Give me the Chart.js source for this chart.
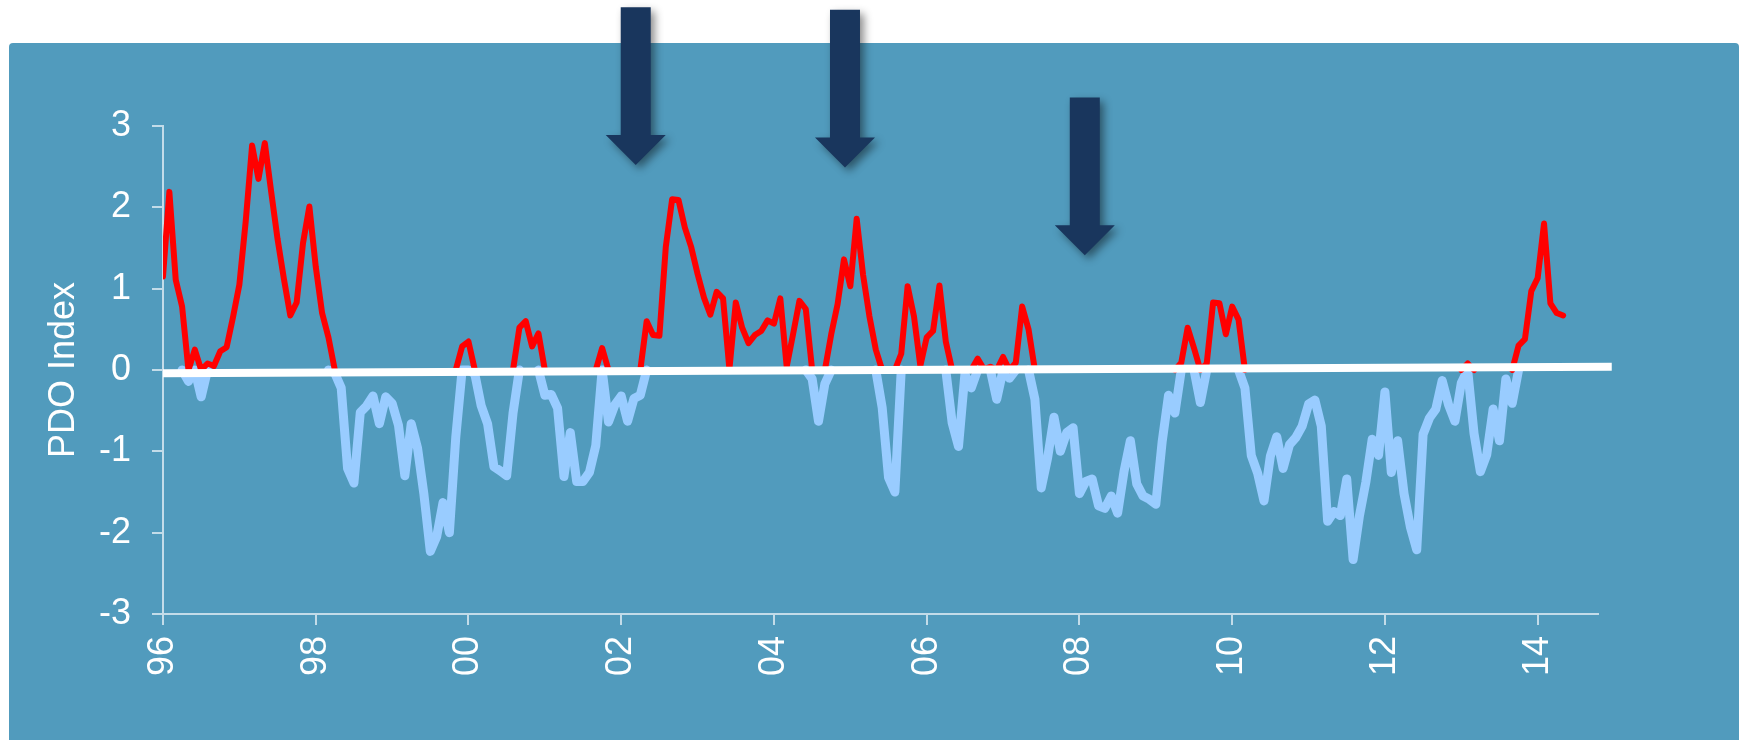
<!DOCTYPE html>
<html>
<head>
<meta charset="utf-8">
<title>PDO Index</title>
<script src="https://cdn.jsdelivr.net/npm/chart.js@4.4.1/dist/chart.umd.min.js"></script>
<style>
  html, body { margin: 0; padding: 0; background: #ffffff; }
  #wrap { position: relative; width: 1741px; height: 740px; }
</style>
</head>
<body>
<div id="wrap"><canvas id="pdoChart" width="1741" height="740"></canvas></div>
<script>
// PDO index, monthly values, Apr 1996 -> Aug 2014
const pdo1996 = [1.15, 2.19, 1.11, 0.78, -0.14, 0.25, -0.33, 0.08, 0.05]; // Apr..Dec
const pdo1997 = [0.23, 0.28, 0.65, 1.05, 1.83, 2.76, 2.35, 2.79, 2.19, 1.61, 1.12, 0.67];
const pdo1998 = [0.83, 1.56, 2.01, 1.27, 0.70, 0.40, -0.04, -0.22, -1.21, -1.39, -0.52, -0.44];
const pdo1999 = [-0.32, -0.66, -0.33, -0.41, -0.68, -1.30, -0.66, -0.96, -1.53, -2.23, -2.05, -1.63];
const pdo2000 = [-2.00, -0.83, 0.29, 0.35, -0.05, -0.44, -0.66, -1.19, -1.24, -1.30, -0.53, 0.52];
const pdo2001 = [0.60, 0.29, 0.45, -0.31, -0.30, -0.47, -1.31, -0.77, -1.37, -1.37, -1.26, -0.93];
const pdo2002 = [0.27, -0.64, -0.43, -0.32, -0.63, -0.35, -0.31, 0.60, 0.43, 0.42, 1.51, 2.10];
const pdo2003 = [2.09, 1.75, 1.51, 1.18, 0.89, 0.68, 0.96, 0.88, 0.01, 0.83, 0.52, 0.33];
const pdo2004 = [0.43, 0.48, 0.61, 0.57, 0.88, 0.04, 0.44, 0.85, 0.75, -0.11, -0.63, -0.17];
const pdo2005 = [0.44, 0.81, 1.36, 1.03, 1.86, 1.17, 0.66, 0.25, -0.46, -1.32, -1.50, 0.20];
const pdo2006 = [1.03, 0.66, 0.05, 0.40, 0.48, 1.04, 0.35, -0.65, -0.94, -0.05, -0.22, 0.14];
const pdo2007 = [0.01, 0.04, -0.36, 0.16, -0.10, 0.09, 0.78, 0.50, -0.36, -1.45, -1.08, -0.58];
const pdo2008 = [-1.00, -0.77, -0.71, -1.52, -1.37, -1.34, -1.67, -1.70, -1.55, -1.76, -1.25, -0.87];
const pdo2009 = [-1.40, -1.55, -1.59, -1.65, -0.88, -0.31, -0.53, 0.09, 0.52, 0.27, -0.40, 0.08];
const pdo2010 = [0.83, 0.82, 0.44, 0.78, 0.62, -0.22, -1.05, -1.27, -1.61, -1.06, -0.82, -1.21];
const pdo2011 = [-0.92, -0.83, -0.69, -0.42, -0.37, -0.69, -1.86, -1.74, -1.79, -1.34, -2.33, -1.79];
const pdo2012 = [-1.38, -0.85, -1.05, -0.27, -1.26, -0.87, -1.52, -1.93, -2.21, -0.79, -0.59, -0.48];
const pdo2013 = [-0.13, -0.43, -0.63, -0.16, 0.08, -0.78, -1.25, -1.04, -0.48, -0.87, -0.11, -0.41];
const pdo2014 = [0.30, 0.38, 0.97, 1.13, 1.80, 0.82, 0.70, 0.67];

const years = [1996, 1997, 1998, 1999, 2000, 2001, 2002, 2003, 2004, 2005,
               2006, 2007, 2008, 2009, 2010, 2011, 2012, 2013, 2014];
const yearValues = [pdo1996, pdo1997, pdo1998, pdo1999, pdo2000, pdo2001, pdo2002,
                    pdo2003, pdo2004, pdo2005, pdo2006, pdo2007, pdo2008, pdo2009,
                    pdo2010, pdo2011, pdo2012, pdo2013, pdo2014];
const firstMonth = [3, 0, 0, 0, 0, 0, 0, 0, 0, 0, 0, 0, 0, 0, 0, 0, 0, 0, 0]; // 0 = Jan

// axis ticks
const tickYears = [1996.25, 1998.25, 2000.25, 2002.25, 2004.25, 2006.25, 2008.25, 2010.25, 2012.25, 2014.25];
const tickLabels = ["96", "98", "00", "02", "04", "06", "08", "10", "12", "14"];
const yTicks = [-3, -2, -1, 0, 1, 2, 3];

// white zero line (slightly tilted in the original)
const zeroLineX = [1996.25, 2015.22];
const zeroLineY = [-0.04, 0.04];

// arrows: x in years, top and tip in index units
const arrowX = [2002.44, 2005.18, 2008.32];
const arrowTop = [4.46, 4.43, 3.35];
const arrowTip = [2.52, 2.49, 1.41];

// ---- build series ----
// flatten to one monthly list
const months = [];
years.forEach((yr, i) => {
  yearValues[i].forEach((v, m) => {
    months.push({ x: yr + (firstMonth[i] + m) / 12, v });
  });
});

// warm = positive part, cool = negative part; a month of the other sign
// drops to zero only when it borders the series, otherwise it is a gap
function splitSeries(isMine) {
  return months.map((p, i) => {
    if (isMine(p.v)) return { x: p.x, y: p.v };
    const prev = months[i - 1], next = months[i + 1];
    const borders = (prev && isMine(prev.v)) || (next && isMine(next.v));
    return { x: p.x, y: borders ? 0 : null };
  });
}
const warm = splitSeries((v) => v > 0);
const cool = splitSeries((v) => v < 0);
const zeroLine = zeroLineX.map((x, i) => ({ x, y: zeroLineY[i] }));

const FONT = "'Liberation Sans', Arial, sans-serif";
const AXIS = "#c3dce9";

const panelPlugin = {
  id: "panel",
  beforeDraw(chart) {
    const ctx = chart.ctx;
    ctx.save();
    ctx.fillStyle = "#519bbd";
    ctx.beginPath();
    ctx.roundRect(9, 43, 1730, 720, 4);
    ctx.fill();
    ctx.restore();
  },
};

const arrowPlugin = {
  id: "arrows",
  afterDraw(chart) {
    const { ctx, scales } = chart;
    const sx = scales.x, sy = scales.y;
    ctx.save();
    arrowX.forEach((ax, i) => {
      const cx = sx.getPixelForValue(ax);
      const top = sy.getPixelForValue(arrowTop[i]);
      const tip = sy.getPixelForValue(arrowTip[i]);
      const base = tip - 30;
      ctx.beginPath();
      ctx.moveTo(cx - 15, top);
      ctx.lineTo(cx + 15, top);
      ctx.lineTo(cx + 15, base);
      ctx.lineTo(cx + 30, base);
      ctx.lineTo(cx, tip);
      ctx.lineTo(cx - 30, base);
      ctx.lineTo(cx - 15, base);
      ctx.closePath();
      ctx.shadowColor = "rgba(0,0,0,0.45)";
      ctx.shadowBlur = 8;
      ctx.shadowOffsetX = 4;
      ctx.shadowOffsetY = 4;
      ctx.fillStyle = "#19365d";
      ctx.fill();
    });
    ctx.restore();
  },
};

new Chart(document.getElementById("pdoChart"), {
  type: "line",
  data: {
    datasets: [
      {
        label: "zero",
        data: zeroLine,
        borderColor: "#ffffff",
        borderWidth: 8,
        borderCapStyle: "butt",
        pointRadius: 0,
        clip: false,
      },
      {
        label: "PDO +",
        data: warm,
        borderColor: "#ff0000",
        borderWidth: 6,
        borderJoinStyle: "round",
        borderCapStyle: "round",
        pointRadius: 0,
        tension: 0,
        spanGaps: false,
      },
      {
        label: "PDO -",
        data: cool,
        borderColor: "#99ccff",
        borderWidth: 9,
        borderJoinStyle: "round",
        borderCapStyle: "round",
        pointRadius: 0,
        tension: 0,
        spanGaps: false,
      },
    ],
  },
  options: {
    responsive: false,
    animation: false,
    events: [],
    layout: { padding: { left: 0, top: 126, right: 143, bottom: 0 } },
    plugins: {
      legend: { display: false },
      tooltip: { enabled: false },
    },
    scales: {
      x: {
        type: "linear",
        min: 1996.25,
        max: 2015.04,
        afterBuildTicks: (s) => { s.ticks = tickYears.map((v) => ({ value: v })); },
        afterFit: (s) => { s.height = 126; },
        ticks: {
          autoSkip: false,
          minRotation: 90,
          maxRotation: 90,
          padding: 11,
          color: "#ffffff",
          font: { family: FONT, size: 36 },
          callback: (v, i) => tickLabels[i],
        },
        grid: { drawOnChartArea: false, tickLength: 11, color: AXIS, lineWidth: 2 },
        border: { color: AXIS, width: 2 },
      },
      y: {
        min: -3,
        max: 3,
        afterBuildTicks: (s) => { s.ticks = yTicks.map((v) => ({ value: v })); },
        afterFit: (s) => { s.width = 163; },
        ticks: {
          padding: 21,
          color: "#ffffff",
          font: { family: FONT, size: 36 },
        },
        grid: { drawOnChartArea: false, tickLength: 11, color: AXIS, lineWidth: 2 },
        border: { color: AXIS, width: 2 },
        title: {
          display: true,
          text: "PDO Index",
          color: "#ffffff",
          font: { family: FONT, size: 36 },
          padding: { top: 42, bottom: 0 },
        },
      },
    },
  },
  plugins: [panelPlugin, arrowPlugin],
});
</script>
</body>
</html>
